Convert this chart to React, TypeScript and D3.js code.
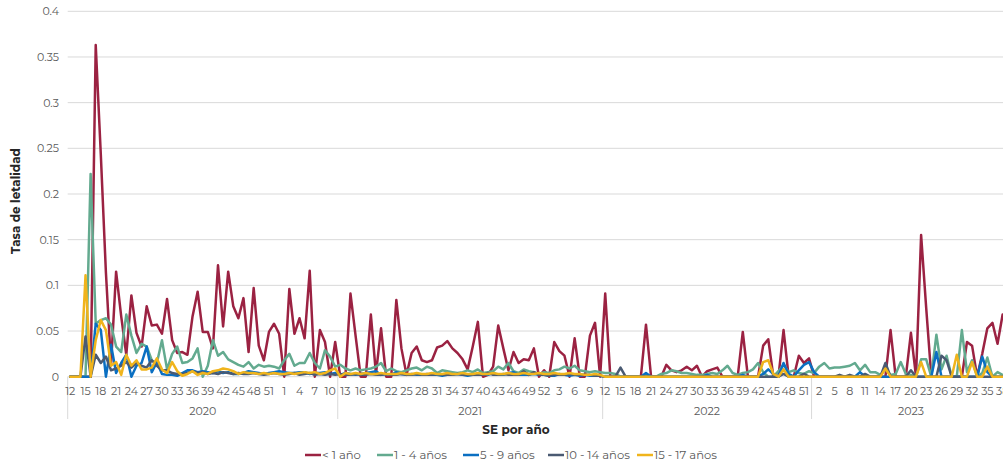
import React from "react";
import * as d3 from "d3";

// ---------- DATA ----------
const groups = [
  { label: "2020", weeks: [...d3.range(12, 54), ...d3.range(1, 12)] },
  { label: "2021", weeks: [...d3.range(12, 53), ...d3.range(1, 12)] },
  { label: "2022", weeks: d3.range(12, 53) },
  { label: "2023", weeks: d3.range(1, 40) },
];

const seriesNames = ["< 1 año", "1 - 4 años", "5 - 9 años", "10 - 14 años", "15 - 17 años"];
const seriesColors = ["#9b2242", "#63aa8f", "#0a6fc2", "#4a5a72", "#f0b41c"];

const menor1 = [
  0, 0, 0, 0, 0, 0.363, 0.243, 0.114, 0.013, 0.115,
  0.066, 0.024, 0.089, 0.048, 0.033, 0.077, 0.056, 0.057, 0.047, 0.085,
  0.040, 0.026, 0.027, 0.024, 0.066, 0.093, 0.049, 0.049, 0.031, 0.122,
  0.055, 0.115, 0.077, 0.064, 0.086, 0.027, 0.097, 0.034, 0.018, 0.049,
  0.058, 0.047, 0, 0.096, 0.047, 0.064, 0.042, 0.116, 0, 0.051,
  0.038, 0, 0.038, 0, 0, 0.091, 0.045, 0, 0, 0.068,
  0.003, 0.053, 0, 0, 0.084, 0.031, 0.002, 0.026, 0.033, 0.018,
  0.016, 0.018, 0.032, 0.034, 0.039, 0.031, 0.026, 0.019, 0.008, 0.033,
  0.060, 0, 0.002, 0.011, 0.056, 0.031, 0.007, 0.027, 0.015, 0.019,
  0.018, 0.031, 0, 0.007, 0, 0.038, 0.028, 0.023, 0, 0.042,
  0, 0, 0.045, 0.059, 0, 0.091, 0, 0, 0, 0,
  0, 0, 0, 0.057, 0, 0, 0, 0.013, 0.007, 0.005,
  0.007, 0.011, 0.007, 0.012, 0, 0.006, 0.008, 0.010, 0, 0,
  0, 0, 0.049, 0, 0, 0, 0.034, 0.041, 0, 0,
  0.051, 0, 0, 0.023, 0.015, 0.020, 0, 0, 0, 0,
  0, 0, 0, 0, 0, 0, 0, 0, 0, 0,
  0, 0.051, 0, 0, 0, 0.048, 0, 0.155, 0.075, 0,
  0, 0, 0, 0, 0, 0, 0.038, 0.034, 0, 0.025,
  0.053, 0.059, 0.036, 0.068, 0.060,
];

const de1a4 = [
  0, 0, 0, 0, 0.222, 0.058, 0.062, 0.064, 0.057, 0.033,
  0.027, 0.068, 0.045, 0.026, 0.036, 0.033, 0.018, 0.015, 0.040, 0.008,
  0.025, 0.033, 0.015, 0.016, 0.020, 0.031, 0, 0.012, 0.040, 0.023,
  0.027, 0.019, 0.016, 0.013, 0.011, 0.016, 0.009, 0.013, 0.011, 0.012,
  0.011, 0.009, 0.018, 0.025, 0.012, 0.015, 0.015, 0.026, 0.015, 0.009,
  0.029, 0.022, 0.011, 0.013, 0.009, 0.007, 0.009, 0.007, 0.008, 0.009,
  0.011, 0.015, 0.006, 0.009, 0.006, 0.005, 0.007, 0.009, 0.010, 0.007,
  0.011, 0.009, 0.004, 0.007, 0.006, 0.005, 0.004, 0.005, 0.007, 0.005,
  0.008, 0.004, 0.005, 0.006, 0.011, 0.008, 0.015, 0.006, 0.004, 0.008,
  0.006, 0.005, 0.003, 0.005, 0.004, 0.007, 0.008, 0.011, 0.009, 0.012,
  0.007, 0.006, 0.005, 0.006, 0.005, 0.004, 0.004, 0.003, 0, 0,
  0, 0, 0, 0.002, 0, 0, 0.003, 0.004, 0.007, 0.006,
  0.004, 0.004, 0.003, 0.002, 0.002, 0.003, 0.004, 0.003, 0.007, 0.012,
  0.004, 0.002, 0.004, 0.005, 0.008, 0.015, 0.005, 0, 0, 0.006,
  0.013, 0.005, 0.007, 0.004, 0.003, 0.006, 0.004, 0.011, 0.015, 0.009,
  0.010, 0.010, 0.011, 0.012, 0.015, 0.007, 0.013, 0.005, 0.005, 0.002,
  0.008, 0.002, 0.003, 0.016, 0.003, 0.002, 0, 0.019, 0.019, 0,
  0.046, 0.008, 0.023, 0, 0, 0.051, 0.005, 0.018, 0, 0.004,
  0.021, 0, 0.005, 0.002, 0,
];

const de5a9 = [
  0, 0, 0, 0, 0, 0.058, 0.051, 0, 0.035, 0.004,
  0.015, 0.024, 0, 0.012, 0.015, 0.033, 0.005, 0.016, 0.003, 0.002,
  0.002, 0.001, 0.004, 0.007, 0.007, 0.005, 0.006, 0.005, 0.004, 0.006,
  0.004, 0.005, 0.003, 0.003, 0.004, 0.006, 0.005, 0.004, 0.003, 0.004,
  0.005, 0.006, 0.005, 0.004, 0.004, 0.005, 0.005, 0.003, 0.004, 0.004,
  0.005, 0.003, 0.004, 0.002, 0.004, 0.003, 0.002, 0.003, 0.004, 0.005,
  0.006, 0.002, 0.003, 0.002, 0.005, 0.003, 0.002, 0.003, 0.002, 0.002,
  0.003, 0.002, 0.002, 0.001, 0.002, 0.002, 0.003, 0.002, 0.001, 0.002,
  0.002, 0.003, 0.002, 0.004, 0.002, 0.002, 0.004, 0.005, 0.002, 0.002,
  0.002, 0.003, 0.002, 0.002, 0.001, 0.001, 0.003, 0.002, 0.001, 0.002,
  0.001, 0.002, 0.001, 0.001, 0.001, 0, 0, 0, 0, 0,
  0, 0, 0, 0.004, 0, 0, 0, 0, 0, 0,
  0, 0, 0, 0, 0, 0.002, 0, 0, 0, 0,
  0, 0, 0.002, 0, 0, 0, 0.003, 0.008, 0.003, 0,
  0.015, 0.003, 0, 0.007, 0.013, 0.016, 0.005, 0, 0, 0,
  0, 0, 0, 0, 0, 0.005, 0, 0, 0, 0,
  0, 0, 0, 0, 0, 0, 0, 0, 0, 0,
  0.027, 0, 0, 0, 0, 0, 0, 0, 0, 0.022,
  0.005, 0, 0, 0, 0,
];

const de10a14 = [
  0, 0, 0, 0.044, 0, 0.024, 0.015, 0.022, 0.007, 0.009,
  0.012, 0.016, 0.010, 0.015, 0.012, 0.010, 0.018, 0.012, 0.007, 0.007,
  0.004, 0.003, 0.003, 0.004, 0.006, 0.004, 0.005, 0.003, 0.004, 0.003,
  0.005, 0.004, 0.003, 0.004, 0.003, 0.003, 0.004, 0.003, 0.002, 0.003,
  0.004, 0.003, 0.002, 0.003, 0.004, 0.002, 0.003, 0.004, 0.002, 0.003,
  0.002, 0.003, 0.002, 0.003, 0.002, 0.002, 0.003, 0.002, 0.002, 0.003,
  0.002, 0.002, 0.003, 0.002, 0.002, 0.003, 0.002, 0.002, 0.003, 0.002,
  0.002, 0.002, 0.003, 0.002, 0.002, 0.002, 0.003, 0.002, 0.002, 0.002,
  0.002, 0.002, 0.004, 0.002, 0.002, 0.003, 0.002, 0.002, 0.002, 0.006,
  0.002, 0.005, 0.002, 0.002, 0.001, 0.002, 0.002, 0.002, 0.003, 0.002,
  0.002, 0.002, 0.002, 0.001, 0.001, 0, 0, 0, 0.010, 0,
  0, 0, 0, 0, 0, 0, 0, 0, 0, 0,
  0, 0, 0, 0, 0, 0, 0, 0, 0, 0,
  0, 0, 0, 0, 0, 0, 0, 0, 0, 0,
  0.003, 0, 0, 0, 0.003, 0, 0, 0, 0, 0,
  0, 0.002, 0, 0.002, 0, 0, 0.003, 0, 0, 0,
  0.015, 0, 0, 0, 0, 0.007, 0, 0, 0, 0,
  0, 0.023, 0.018, 0, 0, 0, 0, 0, 0, 0,
  0, 0, 0, 0, 0,
];

const de15a17 = [
  0, 0, 0, 0.111, 0, 0.040, 0.062, 0.051, 0.012, 0.016,
  0.002, 0.024, 0.012, 0.018, 0.008, 0.008, 0.010, 0.020, 0.008, 0.004,
  0.016, 0.006, 0.001, 0.003, 0.006, 0.002, 0.004, 0.003, 0.006, 0.007,
  0.009, 0.008, 0.006, 0.003, 0.005, 0.004, 0.004, 0.003, 0.004, 0.003,
  0.004, 0.003, 0.003, 0.004, 0.003, 0.004, 0.005, 0.004, 0.005, 0.003,
  0.004, 0.007, 0.009, 0, 0.004, 0.003, 0.004, 0.003, 0.004, 0.003,
  0.003, 0.004, 0.003, 0.003, 0.003, 0.004, 0.003, 0.003, 0.004, 0.003,
  0.003, 0.004, 0.003, 0.003, 0.004, 0.003, 0.003, 0.004, 0.003, 0.003,
  0.004, 0.003, 0.003, 0.004, 0.003, 0.003, 0.004, 0.003, 0.003, 0.004,
  0.003, 0.003, 0.004, 0.003, 0.003, 0.004, 0.003, 0.003, 0.004, 0.003,
  0.003, 0.002, 0.002, 0.003, 0.002, 0, 0, 0, 0, 0,
  0, 0, 0, 0, 0, 0, 0, 0, 0, 0,
  0, 0, 0, 0, 0, 0, 0, 0, 0, 0,
  0, 0, 0, 0, 0, 0, 0.016, 0.018, 0.003, 0,
  0.008, 0, 0, 0, 0, 0, 0, 0, 0, 0,
  0, 0, 0, 0, 0, 0, 0, 0, 0, 0,
  0.009, 0, 0, 0, 0, 0, 0, 0.016, 0, 0,
  0, 0, 0, 0, 0.024, 0, 0, 0.016, 0, 0,
  0.011, 0, 0, 0, 0,
];

const yTicks = [0, 0.05, 0.1, 0.15, 0.2, 0.25, 0.3, 0.35, 0.4];
const yTitle = "Tasa de letalidad";
const xTitle = "SE por año";

// ---------- CHART ----------
const W = 1003;
const H = 462;
const FONT = "Montserrat, 'Open Sans', 'DejaVu Sans', sans-serif";

export default function App() {
  const weeks = groups.flatMap((g) => g.weeks);
  const idx = d3.range(weeks.length);
  const allSeries = [menor1, de1a4, de5a9, de10a14, de15a17];

  const left = 67.7;
  const x = d3.scalePoint<number>().domain(idx).range([left, left + weeks.length * 5.095]).padding(0.5);
  const step = x.step();
  const y = d3.scaleLinear().domain([0, 0.4]).range([376.7, 11.3]);

  const line = d3
    .line<number>()
    .x((_, i) => x(i) as number)
    .y((v) => y(v));

  // group boundaries
  let acc = 0;
  const bounds = [left];
  const groupCenters: { label: string; cx: number }[] = [];
  groups.forEach((g) => {
    const start = left + acc * step;
    acc += g.weeks.length;
    const end = left + acc * step;
    bounds.push(end);
    groupCenters.push({ label: g.label, cx: (start + end) / 2 });
  });

  const legendX = [305, 377, 463, 548, 637];

  return (
    <svg
      width={W}
      height={H}
      style={{ position: "absolute", left: 0, top: 0, background: "#fff", overflow: "hidden" }}
      fontFamily={FONT}
    >
      {/* gridlines */}
      {yTicks.map((t) => (
        <line key={t} x1={left} x2={W} y1={y(t)} y2={y(t)} stroke="#d9d9d9" strokeWidth={1} />
      ))}
      {/* y tick labels */}
      {yTicks.map((t) => (
        <text key={"l" + t} x={59} y={y(t) + 4} textAnchor="end" fontSize={11} fill="#595959">
          {String(t)}
        </text>
      ))}
      {/* group separators */}
      {bounds.map((b, i) => (
        <line key={"b" + i} x1={b} x2={b} y1={376.7} y2={419} stroke="#d9d9d9" strokeWidth={1} />
      ))}
      {/* x tick labels */}
      {idx
        .filter((i) => i % 3 === 0)
        .map((i) => (
          <text key={"x" + i} x={x(i)} y={395} textAnchor="middle" fontSize={11} fill="#595959">
            {weeks[i]}
          </text>
        ))}
      {groupCenters.map((g) => (
        <text key={g.label} x={g.cx} y={415} textAnchor="middle" fontSize={11} fill="#595959">
          {g.label}
        </text>
      ))}
      {/* lines */}
      {allSeries.map((s, k) => (
        <path
          key={k}
          d={line(s) || ""}
          fill="none"
          stroke={seriesColors[k]}
          strokeWidth={2.5}
          strokeLinejoin="round"
          strokeLinecap="round"
        />
      ))}
      {/* axis titles */}
      <text x={516} y={434} textAnchor="middle" fontSize={12} fontWeight="bold" fill="#262626">
        {xTitle}
      </text>
      <text
        transform={`translate(20,201) rotate(-90)`}
        textAnchor="middle"
        fontSize={12}
        fontWeight="bold"
        fill="#262626"
      >
        {yTitle}
      </text>
      {/* legend */}
      {seriesNames.map((n, k) => (
        <g key={n} transform={`translate(${legendX[k]},455)`}>
          <line x1={0} x2={16} y1={0} y2={0} stroke={seriesColors[k]} strokeWidth={2.5} />
          <text x={17} y={4} fontSize={11.6} fill="#595959">
            {n}
          </text>
        </g>
      ))}
    </svg>
  );
}
